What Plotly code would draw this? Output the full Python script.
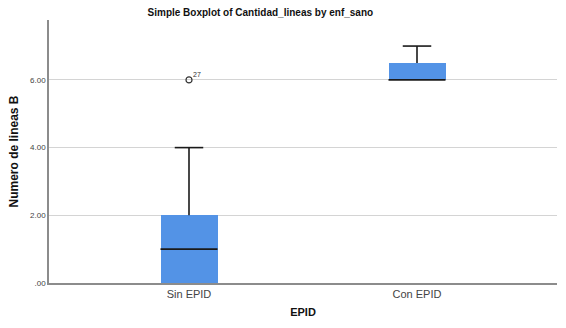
import plotly.graph_objects as go

categories = ["Sin EPID", "Con EPID"]
q1 = [0.0, 6.0]
median = [1.0, 6.0]
q3 = [2.0, 6.5]
lower_whisker = [0.0, 6.0]
upper_whisker = [4.0, 7.0]
outlier_x = ["Sin EPID"]
outlier_y = [6.0]
outlier_labels = ["27"]
y_ticks = [0, 2, 4, 6]
y_ticktext = [".00", "2.00", "4.00", "6.00"]

pos = {c: i for i, c in enumerate(categories)}
box_w = 0.25
cap_w = 0.125

fig = go.Figure()

# boxes
fig.add_trace(go.Bar(
    x=[pos[c] for c in categories],
    y=[b - a for a, b in zip(q1, q3)],
    base=q1,
    width=box_w,
    marker=dict(color="#5393e6", line=dict(width=0)),
    hoverinfo="skip",
    showlegend=False,
))

# whiskers, caps, medians
lx, ly = [], []
for i, c in enumerate(categories):
    x0 = pos[c]
    if upper_whisker[i] > q3[i]:
        lx += [x0, x0, None, x0 - cap_w / 2, x0 + cap_w / 2, None]
        ly += [q3[i], upper_whisker[i], None, upper_whisker[i], upper_whisker[i], None]
    if lower_whisker[i] < q1[i]:
        lx += [x0, x0, None, x0 - cap_w / 2, x0 + cap_w / 2, None]
        ly += [q1[i], lower_whisker[i], None, lower_whisker[i], lower_whisker[i], None]
    lx += [x0 - box_w / 2, x0 + box_w / 2, None]
    ly += [median[i], median[i], None]
fig.add_trace(go.Scatter(
    x=lx, y=ly, mode="lines",
    line=dict(color="#1a1a1a", width=1.6),
    hoverinfo="skip", showlegend=False,
))

# outliers
fig.add_trace(go.Scatter(
    x=[pos[c] for c in outlier_x], y=outlier_y,
    mode="markers",
    marker=dict(symbol="circle-open", size=6, color="#333", line=dict(width=1.2)),
    hoverinfo="skip", showlegend=False,
))
for c, yv, lab in zip(outlier_x, outlier_y, outlier_labels):
    fig.add_annotation(x=pos[c], y=yv, text=lab, showarrow=False,
                       xanchor="left", yanchor="bottom", xshift=2, yshift=0,
                       font=dict(size=7, color="#333", family="Arial, Liberation Sans"))

fig.update_layout(
    width=566, height=328,
    margin=dict(l=49, r=9, t=20, b=45),
    plot_bgcolor="white", paper_bgcolor="white",
    font=dict(family="Arial, Liberation Sans, sans-serif", color="#333"),
    title=dict(text="<b>Simple Boxplot of Cantidad_lineas by enf_sano</b>",
               x=0.46, xanchor="center", y=0.963, yanchor="middle",
               font=dict(size=10, color="#111")),
    bargap=0,
)
fig.update_xaxes(
    range=[-0.614, 1.614], tickvals=[pos[c] for c in categories], ticktext=categories,
    showgrid=False, zeroline=False, showline=True, linecolor="#8c8c8c", linewidth=1.5,
    ticks="", tickfont=dict(size=11, color="#444"),
    title=dict(text="<b>EPID</b>", font=dict(size=11, color="#111"), standoff=9),
)
fig.update_yaxes(
    range=[0, 7.77], tickvals=y_ticks, ticktext=y_ticktext,
    showgrid=True, gridcolor="#d4d4d4", gridwidth=1, zeroline=False,
    showline=True, linecolor="#8c8c8c", linewidth=1.5,
    ticks="", tickfont=dict(size=8, color="#444"),
    title=dict(text="<b>Numero de lineas B</b>", font=dict(size=12, color="#111"), standoff=9),
)

fig.write_html("out.html")
